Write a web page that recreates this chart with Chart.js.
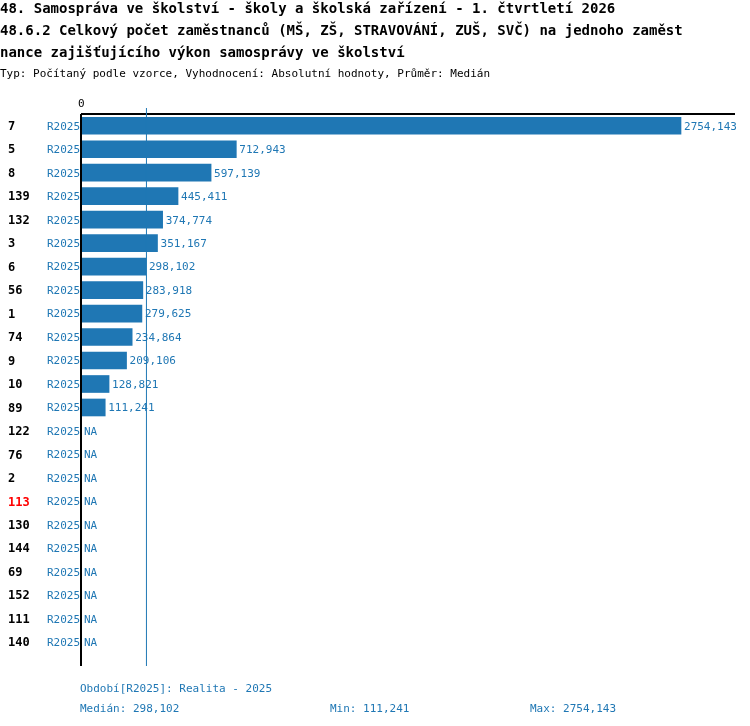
<!DOCTYPE html><html><head><meta charset="utf-8">
<script src="https://cdn.jsdelivr.net/npm/chart.js@4"></script>
<style>body{margin:0;background:#fff}#w{width:750px;height:726px}</style></head><body><div id="w"><canvas id="c"></canvas></div>
<script>
const ids=["7","5","8","139","132","3","6","56","1","74","9","10","89","122","76","2","113","130","144","69","152","111","140"];
const values=[2754.143,712.943,597.139,445.411,374.774,351.167,298.102,283.918,279.625,234.864,209.106,128.821,111.241,null,null,null,null,null,null,null,null,null,null];
const highlight=["113"];
const median=298.102, minV=111.241, maxV=2754.143;
const fmt=v=>v.toFixed(3).replace('.',',');
const mono='"DejaVu Sans Mono", monospace';
const blue='#1f77b4';
const deco={id:'deco',afterDraw(ch){const c=ch.ctx,x=ch.scales.x,y=ch.scales.y,a=ch.chartArea;c.save();
c.fillStyle='#000';c.font='bold 14px '+mono;c.textBaseline='alphabetic';
c.fillText('48. Samospráva ve školství - školy a školská zařízení - 1. čtvrtletí 2026',0,13);
c.fillText('48.6.2 Celkový počet zaměstnanců (MŠ, ZŠ, STRAVOVÁNÍ, ZUŠ, SVČ) na jednoho zaměst',0,35);
c.fillText('nance zajišťujícího výkon samosprávy ve školství',0,57);
c.font='11px '+mono;c.fillText('Typ: Počítaný podle vzorce, Vyhodnocení: Absolutní hodnoty, Průměr: Medián',0,77);
c.fillText('0',x.getPixelForValue(0)-3,107);
c.strokeStyle='#000';c.lineWidth=2;c.beginPath();c.moveTo(a.left,a.top);c.lineTo(a.left,a.bottom+12);c.moveTo(a.left,a.top);c.lineTo(a.right,a.top);c.stroke();
const mx=x.getPixelForValue(median);c.strokeStyle=blue;c.lineWidth=1;c.beginPath();c.moveTo(mx+.5,108);c.lineTo(mx+.5,a.bottom+12);c.stroke();
c.textBaseline='middle';
ids.forEach((id,i)=>{const py=y.getPixelForValue(i);
c.font='bold 12px '+mono;c.fillStyle=highlight.includes(id)?'#f00':'#000';c.fillText(id,8,py+1);
c.font='11px '+mono;c.fillStyle=blue;c.fillText('R2025',47,py+1);
const v=values[i];const px=v==null?x.getPixelForValue(0):x.getPixelForValue(v);
c.fillText(v==null?'NA':fmt(v),px+3,py+1);});
c.textBaseline='alphabetic';c.fillStyle=blue;c.font='11px '+mono;
c.fillText('Období[R2025]: Realita - 2025',80,692);
c.fillText('Medián: '+fmt(median),80,712);c.fillText('Min: '+fmt(minV),330,712);c.fillText('Max: '+fmt(maxV),530,712);
c.restore();}};
new Chart(document.getElementById('c'),{type:'bar',data:{labels:ids,datasets:[{data:values,backgroundColor:blue,barThickness:17}]},
options:{indexAxis:'y',responsive:true,maintainAspectRatio:false,animation:false,
layout:{padding:{left:81,right:15,top:114,bottom:72}},
plugins:{legend:{display:false},tooltip:{enabled:false}},
scales:{x:{min:0,max:3002,display:false},y:{display:false,offset:true}}},plugins:[deco]});
</script></body></html>
